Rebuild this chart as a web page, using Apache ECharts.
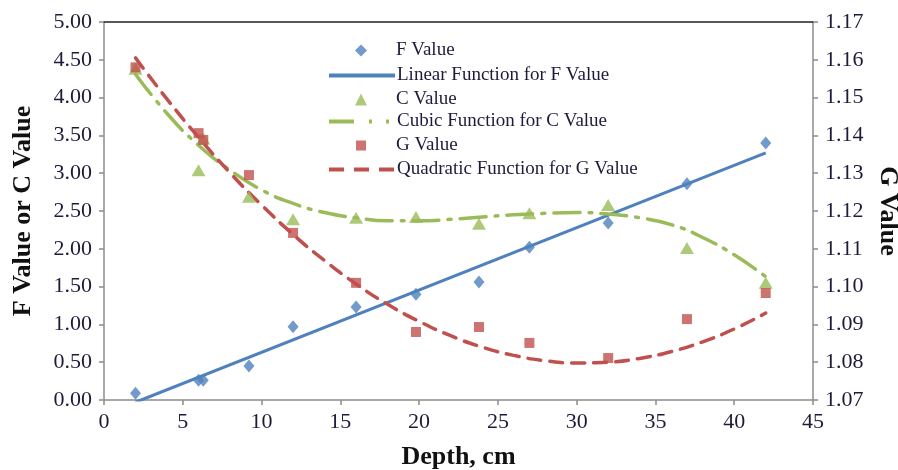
<!DOCTYPE html>
<html>
<head>
<meta charset="utf-8">
<script src="https://cdn.jsdelivr.net/npm/echarts@6/dist/echarts.min.js"></script>
<style>
html,body{margin:0;padding:0;background:#fff;overflow:hidden;}
#chart{width:898px;height:470px;}
</style>
</head>
<body>
<div id="chart"></div>
<script>
// Measured points
var depth = [2, 6, 6.3, 9.2, 12, 16, 19.8, 23.8, 27, 32, 37, 42];
var fValues = [0.09, 0.26, 0.26, 0.45, 0.97, 1.23, 1.40, 1.56, 2.02, 2.34, 2.86, 3.40];
var cValues = [4.38, 3.04, 3.46, 2.69, 2.39, 2.41, 2.42, 2.33, 2.47, 2.58, 2.01, 1.55];
var gValues = [1.158, 1.1406, 1.1388, 1.1295, 1.1142, 1.1010, 1.0880, 1.0893, 1.0851, 1.0811, 1.0914, 1.0983];

// Trend lines
var linearX = [2, 42];
var linearF = [-0.03, 3.27];
var curveX = [2, 4, 6, 8, 10, 12, 14, 16, 18, 20, 22, 24, 26, 28, 30, 32, 34, 36, 38, 40, 42];
var cubicC = [4.31, 3.79, 3.37, 3.04, 2.78, 2.60, 2.48, 2.41, 2.37, 2.37, 2.39, 2.42, 2.45, 2.47, 2.48, 2.46, 2.41, 2.32, 2.15, 1.92, 1.63];
var quadG = [1.1605, 1.1496, 1.1395, 1.1301, 1.1216, 1.1138, 1.1069, 1.1007, 1.0953, 1.0908, 1.0870, 1.0840, 1.0818, 1.0804, 1.0798, 1.0800, 1.0810, 1.0828, 1.0854, 1.0888, 1.0930];

var xTicks = [0, 5, 10, 15, 20, 25, 30, 35, 40, 45];
var legendNames = ['F Value', 'Linear Function for F Value', 'C Value',
  'Cubic Function for C Value', 'G Value', 'Quadratic Function for G Value'];

function pairs(xs, ys) { return xs.map(function (x, i) { return [x, ys[i]]; }); }

var BLUE = '#4F81BD', RED = '#C0504D', GREEN = '#9BBB59';
var FONT = 'Liberation Serif';
var axisGray = '#8c8c8c';
var labelColor = '#1f1a3a';

// one legend block per row so symbol items and line items can differ in width
var legendRowTop = [36, 61, 85, 107, 131, 155];
var legendLineDash = {1: 'solid', 3: [25, 15, 3, 14, 3, 12], 5: [15, 10]};
var legends = legendNames.map(function (name, i) {
  var isLine = (i % 2 === 1);
  var base = {
    orient: 'vertical',
    top: legendRowTop[i],
    itemGap: 0,
    data: [name],
    textStyle: {fontFamily: FONT, fontSize: 19, color: labelColor}
  };
  if (isLine) {
    base.left = 322;
    base.itemWidth = 66;
    base.itemHeight = 14;
    base.itemStyle = {opacity: 0};
    base.lineStyle = {width: 4, type: legendLineDash[i], cap: 'butt'};
    base.textStyle.padding = [0, 0, 0, -3];
  } else {
    var sz = i === 4 ? 10 : 12;
    base.left = 355 - sz / 2 - 5 + 6;
    base.itemWidth = sz;
    base.itemHeight = sz;
    base.textStyle.padding = [0, 0, 0, 396 - (base.left + 5 + sz + 5)];
  }
  return base;
});

var chart = echarts.init(document.getElementById('chart'), null, {renderer: 'canvas'});
chart.setOption({
  animation: false,
  backgroundColor: '#fff',
  grid: {left: 104, right: 85, top: 22, bottom: 70, containLabel: false, outerBoundsMode: 'none'},
  legend: legends,
  xAxis: [{
    type: 'value', min: 0, max: 45, interval: 5,
    name: 'Depth, cm', nameLocation: 'middle', nameGap: 44,
    nameTextStyle: {fontFamily: FONT, fontSize: 26, fontWeight: 'bold', color: '#111'},
    axisLine: {show: true, onZero: false, lineStyle: {color: axisGray, width: 1.5}},
    axisTick: {show: true, inside: false, length: 5, lineStyle: {color: axisGray, width: 1.5}},
    axisLabel: {fontFamily: FONT, fontSize: 22, color: labelColor, margin: 11,
      customValues: xTicks},
    splitLine: {show: false}
  }, {
    type: 'value', min: 0, max: 45, position: 'top',
    axisLine: {show: true, onZero: false, lineStyle: {color: '#222', width: 1.5}},
    axisTick: {show: false}, axisLabel: {show: false}, splitLine: {show: false}
  }],
  yAxis: [{
    type: 'value', min: 0, max: 5, interval: 0.5, position: 'left',
    name: 'F Value or C Value', nameLocation: 'middle', nameGap: 68, nameRotate: 90,
    nameTextStyle: {fontFamily: FONT, fontSize: 26, fontWeight: 'bold', color: '#111'},
    axisLine: {show: true, onZero: false, lineStyle: {color: axisGray, width: 1.5}},
    axisTick: {show: true, length: 5, lineStyle: {color: axisGray, width: 1.5}},
    axisLabel: {fontFamily: FONT, fontSize: 22, color: labelColor, margin: 12,
      formatter: function (v) { return v.toFixed(2); }},
    splitLine: {show: false}
  }, {
    type: 'value', min: 1.07, max: 1.17, interval: 0.01, position: 'right',
    name: 'G Value', nameLocation: 'middle', nameGap: 52, nameRotate: -90,
    nameTextStyle: {fontFamily: FONT, fontSize: 26, fontWeight: 'bold', color: '#111'},
    axisLine: {show: true, onZero: false, lineStyle: {color: axisGray, width: 1.5}},
    axisTick: {show: true, length: 5, lineStyle: {color: axisGray, width: 1.5}},
    axisLabel: {fontFamily: FONT, fontSize: 22, color: labelColor, margin: 12,
      formatter: function (v) { return v.toFixed(2); }},
    splitLine: {show: false}
  }],
  series: [
    {
      name: 'F Value', type: 'scatter', xAxisIndex: 0, yAxisIndex: 0,
      symbol: 'diamond', symbolSize: [11, 13],
      itemStyle: {color: BLUE},
      data: pairs(depth, fValues), z: 5
    },
    {
      name: 'Linear Function for F Value', type: 'line', xAxisIndex: 0, yAxisIndex: 0,
      showSymbol: false, symbol: 'none', clip: true,
      lineStyle: {color: BLUE, width: 3},
      itemStyle: {color: BLUE},
      data: pairs(linearX, linearF), z: 3
    },
    {
      name: 'C Value', type: 'scatter', xAxisIndex: 0, yAxisIndex: 0,
      symbol: 'triangle', symbolSize: [14, 12],
      itemStyle: {color: GREEN},
      data: pairs(depth, cValues), z: 5
    },
    {
      name: 'Cubic Function for C Value', type: 'line', xAxisIndex: 0, yAxisIndex: 0,
      showSymbol: false, symbol: 'none', smooth: true,
      lineStyle: {color: GREEN, width: 3.5, type: [26, 9, 3, 9], cap: 'round'},
      itemStyle: {color: GREEN},
      data: pairs(curveX, cubicC), z: 3
    },
    {
      name: 'G Value', type: 'scatter', xAxisIndex: 0, yAxisIndex: 1,
      symbol: 'rect', symbolSize: 10,
      itemStyle: {color: RED},
      data: pairs(depth, gValues), z: 5
    },
    {
      name: 'Quadratic Function for G Value', type: 'line', xAxisIndex: 0, yAxisIndex: 1,
      showSymbol: false, symbol: 'none', smooth: true,
      lineStyle: {color: RED, width: 3.5, type: [13, 9], cap: 'round'},
      itemStyle: {color: RED},
      data: pairs(curveX, quadG), z: 3
    }
  ]
});
</script>
</body>
</html>
